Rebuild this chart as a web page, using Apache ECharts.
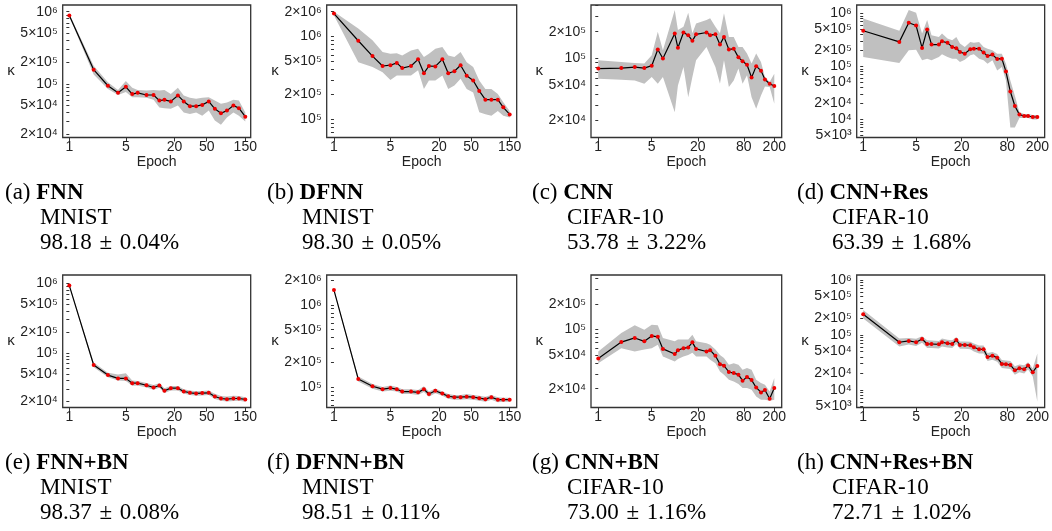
<!DOCTYPE html>
<html><head><meta charset="utf-8">
<script src="https://cdn.jsdelivr.net/npm/echarts@6/dist/echarts.min.js"></script>
<style>html,body{margin:0;padding:0;background:#fff}#c{width:1052px;height:531px}</style>
</head><body><div id="c"></div><script>
// ---------- DATA ----------
const epochsMNIST = [1,2,3,4,5,6,7,9,11,13,15,18,22,26,31,37,44,53,63,75,89,107,125,150];
const epochsCIFAR = [1,2,3,4,5,6,7,10,11,13,15,17,19,26,29,34,39,44,51,59,68,77,88,101,116,134,151,174,200];
const epochsRes   = [1,3,4,5,6,7,8,10,11,13,15,17,19,22,26,29,34,39,44,51,59,68,77,88,101,116,134,151,174,200];

const xTicksMNIST = [1,5,20,50,150];
const xTicksCIFAR = [1,5,20,80,200];
const yTicksA = [2e4,5e4,1e5,2e5,5e5,1e6];
const yTicksB = [1e5,2e5,5e5,1e6,2e6];
const yTicksC = [2e4,5e4,1e5,2e5];
const yTicksD = [5e3,1e4,2e4,5e4,1e5,2e5,5e5,1e6];

// (a) FNN
const kappaA = [890000,157000,94000,75000,91000,72000,75000,70000,70000,58500,60000,57000,69000,57000,49000,49000,51000,57000,45000,39000,42500,50000,46000,35000];
const highA  = [930000,178000,105000,82000,109000,88000,82000,81000,82000,81000,82000,72000,88000,69000,64000,62000,64000,65000,58500,53000,55000,60000,58500,40000];
const lowA   = [850000,135000,85000,70000,77000,65000,65000,64000,60000,47000,46000,45000,50000,40000,38000,40000,36000,42500,31000,27000,34000,40000,36000,30000];
// (b) DFNN
const kappaB = [1900000,890000,580000,440000,450000,480000,415000,440000,530000,360000,440000,435000,530000,360000,380000,450000,335000,294000,220000,172000,172000,172000,139000,114000];
const highB  = [2000000,1250000,900000,650000,620000,630000,590000,680000,710000,565000,620000,710000,750000,590000,565000,650000,490000,427000,294000,232000,232000,202000,160000,126000];
const lowB   = [1800000,490000,427000,370000,299000,338000,338000,338000,390000,232000,294000,294000,338000,232000,255000,308000,232000,211000,121000,115000,110000,126000,110000,105000];
// (c) CNN
const kappaC = [77000,78000,80000,78000,83000,126000,100000,191000,132000,196000,183000,158000,187000,196000,183000,187000,144000,175000,126000,129000,103000,93000,85000,61000,82000,73000,58000,52000,49000];
const highC  = [95500,91500,89000,87700,109000,200000,124000,352000,209000,228000,328000,192000,248000,271000,283000,228000,192000,322000,175000,175000,135000,135000,114000,87700,114000,91500,61900,54300,67500];
const lowC   = [59300,57700,56700,52000,61900,52000,61900,24800,49800,80000,36700,61900,95500,135000,109000,80000,52000,95500,47700,56700,77000,52000,64600,36700,27100,38400,48500,47700,30900];
// (d) CNN+Res
const kappaD = [470000,290000,665000,590000,223000,497000,258000,258000,298000,278000,233000,220000,187000,174000,210000,216000,216000,182000,157000,167000,138000,140000,80000,33500,17900,12300,11600,11600,11100,11100];
const highD  = [800000,470000,1160000,1030000,417000,747000,388000,360000,417000,335000,312000,360000,269000,233000,290000,278000,290000,233000,216000,201000,174000,174000,112000,54000,28000,13600,12700,12600,12100,12100];
const lowD   = [150000,116000,201000,207000,130000,140000,130000,150000,169000,150000,140000,140000,121000,134000,162000,169000,140000,130000,112000,130000,84000,97000,54000,7000,7000,10600,10600,10600,10000,10000];
// (e) FNN+BN
const kappaE = [930000,67000,48000,43000,43000,36700,36700,34300,31800,34000,28500,31100,31100,27900,26700,26100,26400,26700,23600,22100,21600,22100,22100,21400];
const highE  = [960000,73000,52000,49000,51000,40000,39500,37000,34500,36500,31000,33500,33500,30000,28700,28000,28300,28800,25800,24000,23600,24200,24000,23000];
const lowE   = [900000,62000,44500,40000,39500,33700,34000,31800,29500,31500,26500,28800,28800,26000,24800,24300,24500,24800,21800,20500,20000,20300,20500,19900];
// (f) DFNN+BN
const kappaF = [1510000,126000,103000,95000,98000,95000,89000,89000,87000,95000,83000,91000,84000,78000,76000,76000,77000,76000,74000,72000,76000,71000,71000,71000];
const highF  = [1560000,135000,110000,101000,105000,101000,95000,95000,93000,103000,89000,97000,89000,83000,81000,81000,83000,81000,79000,77000,81000,76000,75000,75000];
const lowF   = [1460000,118000,96000,89000,91000,89000,83000,83000,81000,88000,77000,85000,79000,73000,71000,71000,72000,71000,69000,67000,71000,66000,67000,67000];
// (g) CNN+BN
const kappaG = [45600,71000,79500,72500,84000,82000,59000,51300,57000,60000,61500,70500,59000,55000,57000,49000,39000,37400,31500,30600,29300,24900,27500,25300,20700,18100,19300,15200,20400];
const highG  = [55000,91000,112000,99500,114000,112000,79500,72500,76000,76000,76000,87000,72500,69000,66000,58000,50000,46000,38400,40000,38400,33500,35000,33500,25500,23300,22300,18600,26700];
const lowG   = [40000,60000,55000,58000,60000,66000,48000,42000,45000,48000,50000,53000,48000,48000,44000,40000,32000,29300,25500,24400,22700,20400,20400,19500,16200,14800,14800,14400,14800];
// (h) CNN+Res+BN
const kappaH = [238000,73600,78000,73600,84500,68500,68500,67600,73600,70500,68500,81000,65800,65800,64800,59700,54900,54900,39800,42000,38700,29700,29300,28500,22800,24800,23800,27700,21000,27300];
const highH  = [285000,86000,88000,85000,95000,80000,79000,78000,86000,82000,80000,92000,76000,76000,75000,70000,64000,64000,47000,49000,45000,35000,34500,33500,27000,29000,28000,32000,24500,46000];
const lowH   = [200000,62000,67000,63000,72000,58000,58000,57000,62000,59000,58000,68000,56000,56000,55000,50000,46000,46000,33500,35500,32500,25000,24500,24000,19000,21000,20000,23500,17500,6100];

const captionTags   = ['(a)','(b)','(c)','(d)','(e)','(f)','(g)','(h)'];
const captionModels = ['FNN','DFNN','CNN','CNN+Res','FNN+BN','DFNN+BN','CNN+BN','CNN+Res+BN'];
const captionData   = ['MNIST','MNIST','CIFAR-10','CIFAR-10','MNIST','MNIST','CIFAR-10','CIFAR-10'];
const captionAcc    = ['98.18\u2004±\u20040.04%','98.30\u2004±\u20040.05%','53.78\u2004±\u20043.22%','63.39\u2004±\u20041.68%','98.37\u2004±\u20040.08%','98.51\u2004±\u20040.11%','73.00\u2004±\u20041.16%','72.71\u2004±\u20041.02%'];

// ---------- LAYOUT ----------
const L = Math.log10;
const colX = [62.7, 326.7, 591, 856.7];
const colW = [188, 190, 190.7, 190];
const rowTop = [5, 275];
const plotH = 132.5;
const panels = [
  {epochs: epochsMNIST, kappa: kappaA, low: lowA, high: highA, xTicks: xTicksMNIST, yTicks: yTicksA, yR: [1.8e4, 1.24e6], xR: [-0.082, 2.243]},
  {epochs: epochsMNIST, kappa: kappaB, low: lowB, high: highB, xTicks: xTicksMNIST, yTicks: yTicksB, yR: [6.0e4, 2.41e6], xR: [-0.090, 2.263]},
  {epochs: epochsCIFAR, kappa: kappaC, low: lowC, high: highC, xTicks: xTicksCIFAR, yTicks: yTicksC, yR: [1.29e4, 4.0e5], xR: [-0.095, 2.398]},
  {epochs: epochsRes,   kappa: kappaD, low: lowD, high: highD, xTicks: xTicksCIFAR, yTicks: yTicksD, yR: [4.55e3, 1.44e6], xR: [-0.086, 2.398]},
  {epochs: epochsMNIST, kappa: kappaE, low: lowE, high: highE, xTicks: xTicksMNIST, yTicks: yTicksA, yR: [1.64e4, 1.32e6], xR: [-0.082, 2.243]},
  {epochs: epochsMNIST, kappa: kappaF, low: lowF, high: highF, xTicks: xTicksMNIST, yTicks: yTicksB, yR: [5.7e4, 2.3e6], xR: [-0.090, 2.263]},
  {epochs: epochsCIFAR, kappa: kappaG, low: lowG, high: highG, xTicks: xTicksCIFAR, yTicks: yTicksC, yR: [1.2e4, 4.4e5], xR: [-0.095, 2.398]},
  {epochs: epochsRes,   kappa: kappaH, low: lowH, high: highH, xTicks: xTicksCIFAR, yTicks: yTicksD, yR: [4.8e3, 1.23e6], xR: [-0.086, 2.398]}
];

const AX = '#333';
const TXT = '#222';
const SANS = '"Liberation Sans", Arial, sans-serif';
const SERIF = '"Liberation Serif", "Times New Roman", serif';
const SUP = {'0':'⁰','1':'¹','2':'²','3':'³','4':'⁴','5':'⁵','6':'⁶','7':'⁷','8':'⁸','9':'⁹'};

function yLabel(v) {
  const k = Math.floor(v + 1e-6);
  const m = Math.round(Math.pow(10, v - k));
  const sup = String(k).split('').map(c => SUP[c]).join('');
  return (m === 1 ? '' : m + '×') + '10' + sup;
}
function minorTicks(lo, hi) {
  const out = [];
  for (let k = Math.floor(lo) - 1; k <= Math.ceil(hi); k++) {
    for (let m = 1; m <= 9; m++) {
      const v = L(m) + k;
      if (v >= lo && v <= hi) out.push(v);
    }
  }
  return out;
}

const grid = [], xAxis = [], yAxis = [], series = [], graphic = [];
panels.forEach((p, i) => {
  const col = i % 4, row = Math.floor(i / 4);
  grid.push({left: colX[col], top: rowTop[row], width: colW[col], height: plotH,
    show: true, borderColor: AX, borderWidth: 1.3, backgroundColor: 'transparent', containLabel: false});
  const ylo = L(p.yR[0]), yhi = L(p.yR[1]);
  xAxis.push({type: 'value', gridIndex: i, min: p.xR[0], max: p.xR[1],
    name: 'Epoch', nameLocation: 'middle', nameGap: 10,
    nameTextStyle: {fontFamily: SANS, fontSize: 14, color: TXT},
    axisLine: {show: false}, splitLine: {show: false},
    axisTick: {show: true, length: 4, customValues: p.xTicks.map(L), lineStyle: {color: AX, width: 1}},
    axisLabel: {customValues: p.xTicks.map(L), margin: 3, fontFamily: SANS, fontSize: 14, color: TXT,
      formatter: v => String(Math.round(Math.pow(10, v)))}
  });
  yAxis.push({type: 'value', gridIndex: i, min: ylo, max: yhi,
    name: 'κ', nameLocation: 'middle', nameGap: 48, nameRotate: 0,
    nameTextStyle: {fontFamily: SANS, fontSize: 15, color: TXT},
    axisLine: {show: false}, splitLine: {show: false},
    axisTick: {show: true, length: 3, customValues: minorTicks(ylo, yhi), lineStyle: {color: AX, width: 1}},
    axisLabel: {customValues: p.yTicks.map(L), margin: 5, formatter: yLabel,
      fontFamily: SANS, fontSize: 14, color: TXT, hideOverlap: false}
  });
  const lx = p.epochs.map(L);
  series.push({type: 'custom', xAxisIndex: i, yAxisIndex: i, silent: true, clip: true, z: 1,
    data: [[lx[0], L(p.kappa[0])]],
    renderItem: (params, api) => {
      const pts = [];
      for (let j = 0; j < lx.length; j++) pts.push(api.coord([lx[j], L(p.high[j])]));
      for (let j = lx.length - 1; j >= 0; j--) pts.push(api.coord([lx[j], L(p.low[j])]));
      return {type: 'polygon', shape: {points: pts}, style: {fill: '#c0c0c0', stroke: null}};
    }
  });
  series.push({type: 'line', xAxisIndex: i, yAxisIndex: i, z: 3,
    data: lx.map((x, j) => [x, L(p.kappa[j])]),
    symbol: 'circle', symbolSize: 4, showSymbol: true,
    itemStyle: {color: '#ee0000', borderWidth: 0},
    lineStyle: {color: '#000', width: 1.2}
  });
  const cx = [5, 267, 532, 797][col];
  const cy = [193, 463][row];
  graphic.push({type: 'text', x: cx, y: cy, style: {
    text: captionTags[i] + ' {b|' + captionModels[i] + '}',
    font: '23px ' + SERIF, fill: '#000', verticalAlign: 'middle', align: 'left',
    rich: {b: {fontFamily: SERIF, fontSize: 23, fontWeight: 'bold', fill: '#000'}}
  }});
  graphic.push({type: 'text', x: cx + 35, y: cy + 25, style: {
    text: captionData[i], font: '23px ' + SERIF, fill: '#000', verticalAlign: 'middle', align: 'left'}});
  graphic.push({type: 'text', x: cx + 35, y: cy + 50, style: {
    text: captionAcc[i], font: '23px ' + SERIF, fill: '#000', verticalAlign: 'middle', align: 'left'}});
});

const chart = echarts.init(document.getElementById('c'), null, {renderer: 'canvas'});
chart.setOption({animation: false, backgroundColor: '#fff', grid, xAxis, yAxis, series, graphic});
</script></body></html>
